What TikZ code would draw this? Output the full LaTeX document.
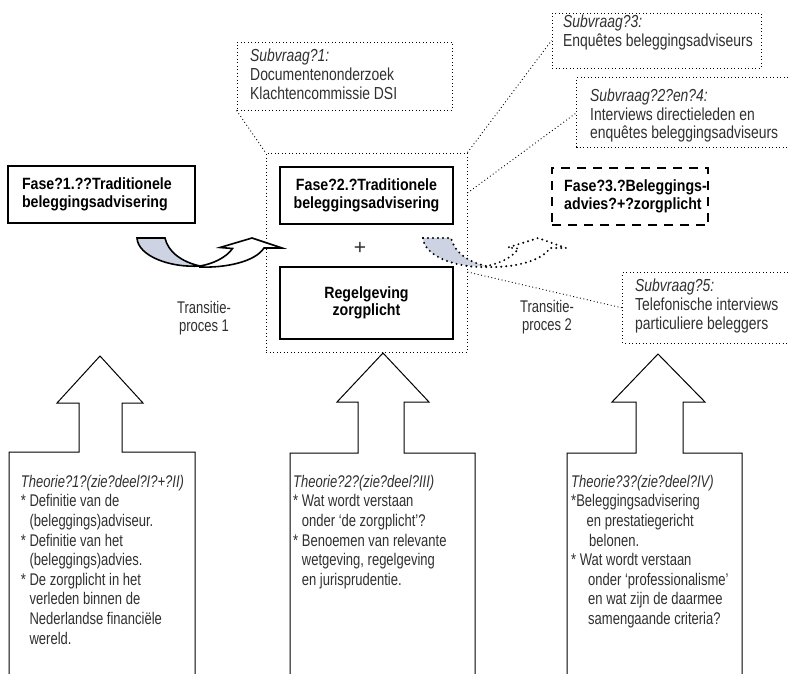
\documentclass[tikz,border=0pt]{standalone}
\usepackage{fontspec}
\setmainfont{Liberation Sans}[FakeStretch=0.77]
\newfontfamily\subfont{Liberation Sans}[FakeStretch=0.80]
\newfontfamily\bdfont{Liberation Sans}[FakeStretch=0.87]
\newfontfamily\plainfont{Liberation Sans}
\definecolor{txt}{RGB}{48,48,48}
\definecolor{ribbon}{RGB}{205,211,227}
\newcommand{\ind}{\hphantom{*\ }}
\tikzset{
  solidbox/.style={draw=black, line width=2.2pt, inner sep=0pt, text=black,
    font=\bdfont\bfseries\fontsize{16.3}{17.5}\selectfont},
  boldtext/.style={inner sep=0pt, text=black, align=left,
    font=\bdfont\bfseries\fontsize{16.3}{17.5}\selectfont},
  dashbox/.style={draw=black, inner sep=0pt, line width=2pt, dash pattern=on 9pt off 7pt},
  dotbox/.style={draw=black, line width=0.9pt, dash pattern=on 0.9pt off 2.6pt, inner sep=0pt},
  openbox/.style={inner sep=0pt},
  dotline/.style={line width=0.9pt, dash pattern=on 0.9pt off 2.6pt},
  bodytext/.style={inner sep=0pt, align=left, text=txt, font=\subfont\fontsize{17.4}{18.6}\selectfont},
  theotext/.style={inner sep=0pt, align=left, text=txt, font=\fontsize{16.9}{19.6}\selectfont},
  translabel/.style={inner sep=0pt, align=center, text=txt, font=\fontsize{16.9}{16.5}\selectfont},
  theoshape/.style={draw=black, line width=1pt, line join=miter},
  ribbonline/.style={draw=black, line width=1.6pt, line join=miter},
  ribbondots/.style={draw=black, line width=2.2pt, line cap=round, dash pattern=on 0pt off 5pt},
}
\begin{document}
\begin{tikzpicture}[x=1pt,y=-1pt]
\useasboundingbox (0,0) rectangle (788,673);

% --- theory arrows (open at the bottom)
\draw[theoshape] (9,674) -- (9,452) -- (79,452) -- (79,403) -- (57,403) -- (100,356)
  -- (143,403) -- (122,403) -- (122,452) -- (195,452) -- (195,674);
\draw[theoshape] (290,674) -- (290,453) -- (358,453) -- (358,402) -- (337,402) -- (383,353)
  -- (429,402) -- (404,402) -- (404,453) -- (475,453) -- (475,674);
\draw[theoshape] (567,674) -- (567,453) -- (636,453) -- (636,402) -- (612,402) -- (658,354)
  -- (705,402) -- (683,402) -- (683,453) -- (742,453) -- (742,674);

\node[theotext, anchor=north west] (t1) at (20.7,473.3) {\strut{\itshape Theorie?1?(zie?deel?I?+?II)}\\
*\ Definitie van de\\
\ind(beleggings)adviseur.\\
*\ Definitie van het\\
\ind(beleggings)advies.\\
*\ De zorgplicht in het\\
\ind verleden binnen de\\
\ind Nederlandse financiële\\
\ind wereld.};
\node[theotext, anchor=north west] (t2) at (293,473.3) {\strut{\itshape Theorie?2?(zie?deel?III)}\\
*\ Wat wordt verstaan\\
\ind onder ‘de zorgplicht’?\\
*\ Benoemen van relevante\\
\ind wetgeving, regelgeving\\
\ind en jurisprudentie.};
\node[theotext, anchor=north west] (t3) at (571,473.3) {\strut{\itshape Theorie?3?(zie?deel?IV)}\\
*Beleggingsadvisering\\
\hspace*{15.5pt}en prestatiegericht\\
\hspace*{18pt}belonen.\\
*\ Wat wordt verstaan\\
\hspace*{17pt}onder ‘professionalisme’\\
\hspace*{17pt}en wat zijn de daarmee\\
\hspace*{17pt}samengaande criteria?};

% --- group box and its content
\node[dotbox, minimum width=201pt, minimum height=199pt] (grp) at (366.5,252.5) {};
\node[solidbox, minimum width=187pt, minimum height=57pt, text width=159pt, align=left] (f1) at (101.5,194.5)
  {Fase?1.??Traditionele\\beleggingsadvisering};
\node[solidbox, minimum width=173pt, minimum height=57pt, align=center] (f2) at (366.5,195.5)
  {Fase?2.?Traditionele\\beleggingsadvisering};
\node[solidbox, minimum width=173pt, minimum height=72pt, align=center] (rg) at (366.5,303)
  {Regelgeving\\zorgplicht};
\node[dashbox, minimum width=156.5pt, minimum height=57.5pt] (f3) at (630,196.3) {};
\node[boldtext, anchor=west] (f3t) at (564,196.3) {Fase?3.?Beleggings-\\advies?+?zorgplicht};
\node[text=txt, inner sep=0pt, font=\plainfont\fontsize{21}{22}\selectfont] (plus) at (360,248) {+};

% --- subvraag boxes
\node[dotbox, minimum width=215pt, minimum height=68pt] (sv1) at (344.5,76) {};
\node[bodytext, anchor=north west] (sv1t) at (250,48.6)
  {\strut{\itshape Subvraag?1:}\\Documentenonderzoek\\Klachtencommissie DSI};
\node[dotbox, minimum width=209pt, minimum height=55pt] (sv3) at (656.5,40.5) {};
\node[bodytext, anchor=north west] (sv3t) at (563,14.2)
  {\strut{\itshape Subvraag?3:}\\Enquêtes beleggingsadviseurs};
\node[openbox, minimum width=211pt, minimum height=69pt] (sv24) at (682.5,112.5) {};
\draw[dotline] (sv24.north east) -- (sv24.north west) -- (sv24.south west) -- (sv24.south east);
\node[bodytext, anchor=north west] (sv24t) at (590,88.5)
  {\strut{\itshape Subvraag?2?en?4:}\\Interviews directieleden en\\enquêtes beleggingsadviseurs};
\node[openbox, minimum width=165pt, minimum height=70pt] (sv5) at (705.5,308) {};
\draw[dotline] (sv5.north east) -- (sv5.north west) -- (sv5.south west) -- (sv5.south east);
\node[bodytext, anchor=north west] (sv5t) at (635,278.6)
  {\strut{\itshape Subvraag?5:}\\Telefonische interviews\\particuliere beleggers};

% --- dotted connectors
\draw[dotline] (sv1.south west) -- (grp.north west);
\draw[dotline] (grp.north east) -- (sv3.west);
\draw[dotline] ([yshift=59.5pt]grp.east) -- (sv24.west);
\draw[dotline] ([yshift=-19.5pt]grp.east) -- (sv5.west);

% --- transition labels
\node[translabel, anchor=north] (tr1) at (204,301.5) {\strut Transitie-\\proces 1};
\node[translabel, anchor=north] (tr2) at (547,300.2) {\strut Transitie-\\proces 2};

% --- curved ribbon arrow 1 (solid)
\path[ribbonline, fill=ribbon] (137,238) -- (165,238) .. controls (168,252) and (182,262) .. (200,266)
  .. controls (170,268) and (138,256) .. cycle;
\path[ribbonline, fill=white] (200,267) .. controls (225,268) and (255,262) .. (264,248)
  -- (282,248) -- (252,238) -- (220,247.5) -- (232.5,248.5)
  .. controls (226,258) and (212,264) .. (200,266) -- cycle;

% --- curved ribbon arrow 2 (dotted)
\begin{scope}[shift={(286,0)}]
\fill[ribbon] (137,238) -- (165,238) .. controls (168,252) and (182,262) .. (200,266)
  .. controls (170,268) and (138,256) .. cycle;
\draw[ribbondots] (137,238) -- (165,238) .. controls (168,252) and (182,262) .. (200,266);
\draw[ribbondots] (137,238) .. controls (138,256) and (170,268) .. (200,267)
  .. controls (225,268) and (255,262) .. (264,248) -- (280,248) -- (252,238) -- (222,247.5) -- (232.5,248.5)
  .. controls (226,258) and (212,264) .. (200,266);
\end{scope}
\end{tikzpicture}
\end{document}
